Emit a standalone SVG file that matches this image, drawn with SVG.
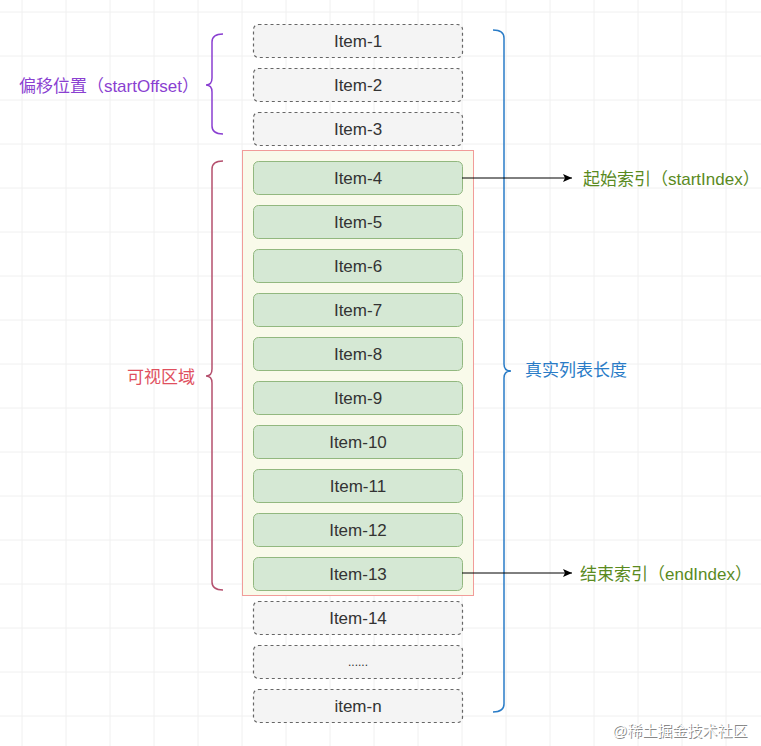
<svg xmlns="http://www.w3.org/2000/svg" width="761" height="746" viewBox="0 0 761 746">
<defs>
<style>
.grid line{stroke:#f0f0f0;stroke-width:1}
.dash rect{fill:#f4f4f4;stroke:#666;stroke-width:1.2;stroke-dasharray:3 3}
.green rect{fill:#d5e8d4;stroke:#92b87f;stroke-width:1}
.it{font-family:"Liberation Sans","Noto Sans CJK SC",sans-serif;font-size:17px;fill:#333;text-anchor:middle;dominant-baseline:central}
.lbl{font-family:"Liberation Sans","Noto Sans CJK SC",sans-serif;font-size:17px;dominant-baseline:central}
.brace{fill:none;stroke-width:1.5}
.arr{stroke:#000;stroke-width:1;fill:none}
</style>
<marker id="ah" markerWidth="10" markerHeight="10" refX="9" refY="5" orient="auto" markerUnits="userSpaceOnUse">
<path d="M0,1 L9,5 L0,9 L2,5 Z" fill="#000"/>
</marker>
</defs>
<rect width="761" height="746" fill="#fff"/>
<g class="grid">
<line x1="22" y1="0" x2="22" y2="746"/><line x1="66" y1="0" x2="66" y2="746"/><line x1="110" y1="0" x2="110" y2="746"/><line x1="154" y1="0" x2="154" y2="746"/><line x1="198" y1="0" x2="198" y2="746"/><line x1="242" y1="0" x2="242" y2="746"/><line x1="286" y1="0" x2="286" y2="746"/><line x1="330" y1="0" x2="330" y2="746"/><line x1="374" y1="0" x2="374" y2="746"/><line x1="418" y1="0" x2="418" y2="746"/><line x1="462" y1="0" x2="462" y2="746"/><line x1="506" y1="0" x2="506" y2="746"/><line x1="550" y1="0" x2="550" y2="746"/><line x1="594" y1="0" x2="594" y2="746"/><line x1="638" y1="0" x2="638" y2="746"/><line x1="682" y1="0" x2="682" y2="746"/><line x1="726" y1="0" x2="726" y2="746"/>
<line x1="0" y1="12" x2="761" y2="12"/><line x1="0" y1="56" x2="761" y2="56"/><line x1="0" y1="100" x2="761" y2="100"/><line x1="0" y1="144" x2="761" y2="144"/><line x1="0" y1="188" x2="761" y2="188"/><line x1="0" y1="232" x2="761" y2="232"/><line x1="0" y1="276" x2="761" y2="276"/><line x1="0" y1="320" x2="761" y2="320"/><line x1="0" y1="364" x2="761" y2="364"/><line x1="0" y1="408" x2="761" y2="408"/><line x1="0" y1="452" x2="761" y2="452"/><line x1="0" y1="496" x2="761" y2="496"/><line x1="0" y1="540" x2="761" y2="540"/><line x1="0" y1="584" x2="761" y2="584"/><line x1="0" y1="628" x2="761" y2="628"/><line x1="0" y1="672" x2="761" y2="672"/><line x1="0" y1="716" x2="761" y2="716"/>
</g>
<g id="visible-area"><rect x="242.5" y="150.5" width="231" height="445" fill="#f9faea" stroke="#f19c99" stroke-width="1"/></g>
<g id="item-1" class="dash"><rect x="253.5" y="24.5" width="209" height="33" rx="5"/><text class="it" x="358" y="41">Item-1</text></g>
<g id="item-2" class="dash"><rect x="253.5" y="68.5" width="209" height="33" rx="5"/><text class="it" x="358" y="85">Item-2</text></g>
<g id="item-3" class="dash"><rect x="253.5" y="112.5" width="209" height="33" rx="5"/><text class="it" x="358" y="129">Item-3</text></g>
<g id="item-4" class="green"><rect x="253.5" y="161.5" width="209" height="33" rx="5"/><text class="it" x="358" y="178">Item-4</text></g>
<g id="item-5" class="green"><rect x="253.5" y="205.5" width="209" height="33" rx="5"/><text class="it" x="358" y="222">Item-5</text></g>
<g id="item-6" class="green"><rect x="253.5" y="249.5" width="209" height="33" rx="5"/><text class="it" x="358" y="266">Item-6</text></g>
<g id="item-7" class="green"><rect x="253.5" y="293.5" width="209" height="33" rx="5"/><text class="it" x="358" y="310">Item-7</text></g>
<g id="item-8" class="green"><rect x="253.5" y="337.5" width="209" height="33" rx="5"/><text class="it" x="358" y="354">Item-8</text></g>
<g id="item-9" class="green"><rect x="253.5" y="381.5" width="209" height="33" rx="5"/><text class="it" x="358" y="398">Item-9</text></g>
<g id="item-10" class="green"><rect x="253.5" y="425.5" width="209" height="33" rx="5"/><text class="it" x="358" y="442">Item-10</text></g>
<g id="item-11" class="green"><rect x="253.5" y="469.5" width="209" height="33" rx="5"/><text class="it" x="358" y="486">Item-11</text></g>
<g id="item-12" class="green"><rect x="253.5" y="513.5" width="209" height="33" rx="5"/><text class="it" x="358" y="530">Item-12</text></g>
<g id="item-13" class="green"><rect x="253.5" y="557.5" width="209" height="33" rx="5"/><text class="it" x="358" y="574">Item-13</text></g>
<g id="item-14" class="dash"><rect x="253.5" y="601.5" width="209" height="33" rx="5"/><text class="it" x="358" y="618">Item-14</text></g>
<g id="item-dots" class="dash"><rect x="253.5" y="645.5" width="209" height="33" rx="5"/><text class="it" x="358" y="662" style="font-size:12px">......</text></g>
<g id="item-n" class="dash"><rect x="253.5" y="689.5" width="209" height="33" rx="5"/><text class="it" x="358" y="706">item-n</text></g>
<g id="offset-label">
<path class="brace" stroke="#8a3fd1" d="M223,34 Q212,34 212,42 L212,78 Q212,85 206,85 Q212,85 212,92 L212,126 Q212,134 223,134"/>
<text class="lbl" x="199" y="86" fill="#8a3fd1" text-anchor="end">偏移位置（startOffset）</text>
</g>
<g id="visible-label">
<path class="brace" stroke="#b5506e" d="M223,161 Q212,161 212,169 L212,369 Q212,376 206,376 Q212,376 212,383 L212,582 Q212,590 223,590"/>
<text class="lbl" x="195" y="377" fill="#e0505e" text-anchor="end">可视区域</text>
</g>
<g id="length-label">
<path class="brace" stroke="#2a7cc7" d="M493,30 Q504,30 504,38 L504,364 Q504,371 511,371 Q504,371 504,378 L504,704 Q504,712 493,712"/>
<text class="lbl" x="525" y="370" fill="#2a7cc7">真实列表长度</text>
</g>
<g id="connectors">
<line class="arr" x1="462" y1="178" x2="572" y2="178" marker-end="url(#ah)"/>
<line class="arr" x1="462" y1="573" x2="572" y2="573" marker-end="url(#ah)"/>
</g>
<g id="start-index-label"><text class="lbl" x="583" y="179" fill="#5a8a1e">起始索引（startIndex）</text></g>
<g id="end-index-label"><text class="lbl" x="580" y="574" fill="#5a8a1e">结束索引（endIndex）</text></g>
<g id="watermark" font-family="Liberation Sans,Noto Sans CJK SC,sans-serif" font-size="15">
<text x="613" y="737" fill="#888">@稀土掘金技术社区</text>
<text x="612" y="736" fill="#fff">@稀土掘金技术社区</text>
</g>
</svg>
